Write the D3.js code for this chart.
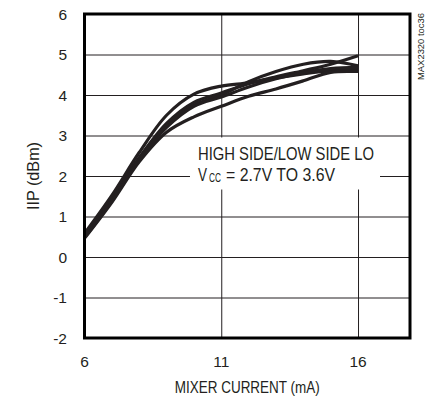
<!DOCTYPE html>
<html>
<head>
<meta charset="utf-8">
<script src="https://cdn.jsdelivr.net/npm/d3@7"></script>
<style>
  body { margin: 0; background: #fff; }
  text { font-family: "Liberation Sans Narrow", "Arial Narrow", "Liberation Sans", Arial, sans-serif; fill: #231f20; }
</style>
</head>
<body>
<svg width="430" height="397"></svg>
<script>
// The svg
var svg = d3.select("svg");

// Data (mixer current in mA, IIP in dBm)
var current = [6, 7, 8, 9, 10, 11, 12, 13, 14, 15, 16];
var iipA = [0.58, 1.52, 2.58, 3.5, 4.02, 4.22, 4.3, 4.42, 4.52, 4.6, 4.63];
var iipB = [0.52, 1.42, 2.45, 3.3, 3.82, 4.05, 4.28, 4.45, 4.6, 4.76, 4.97];
var iipC = [0.5, 1.4, 2.42, 3.25, 3.75, 4.0, 4.33, 4.58, 4.76, 4.83, 4.72];
var iipD = [0.48, 1.38, 2.4, 3.2, 3.72, 3.95, 4.2, 4.4, 4.55, 4.65, 4.68];
var iipE = [0.46, 1.35, 2.35, 3.08, 3.46, 3.72, 3.97, 4.15, 4.35, 4.56, 4.58];
var series = [iipA, iipB, iipC, iipD, iipE];

var xTicks = [6, 11, 16];
var yTicks = [-2, -1, 0, 1, 2, 3, 4, 5, 6];

// plot frame (pixels)
var plotL = 84.5, plotR = 410, plotT = 14, plotB = 338;

var x = d3.scaleLinear().domain([6, 17.9]).range([plotL, plotR]);
var y = d3.scaleLinear().domain([-2, 6]).range([plotB, plotT]);

// grid lines
svg.append("g")
  .attr("transform", "translate(0," + plotB + ")")
  .call(d3.axisBottom(x).tickValues(xTicks).tickSize(-(plotB - plotT)).tickFormat(""))
  .call(function(g){ g.select(".domain").remove() })
  .selectAll("line").attr("stroke", "#231f20").attr("stroke-width", 1);

svg.append("g")
  .attr("transform", "translate(" + plotL + ",0)")
  .call(d3.axisLeft(y).tickValues(yTicks).tickSize(-(plotR - plotL)).tickFormat(""))
  .call(function(g){ g.select(".domain").remove() })
  .selectAll("line").attr("stroke", "#231f20").attr("stroke-width", 1);

// white box behind the note
svg.append("rect")
  .attr("x", 190).attr("y", 137.5)
  .attr("width", 190).attr("height", 52)
  .attr("fill", "#fff");

// curves
var line = d3.line()
  .x(function(d, i){ return x(current[i]) })
  .y(function(d){ return y(d) })
  .curve(d3.curveCatmullRom.alpha(0.5));

svg.append("g")
  .selectAll("path")
  .data(series)
  .enter()
  .append("path")
    .attr("d", line)
    .attr("fill", "none")
    .attr("stroke", "#231f20")
    .attr("stroke-width", 3.2);

// frame
svg.append("rect")
  .attr("x", plotL).attr("y", plotT)
  .attr("width", plotR - plotL).attr("height", plotB - plotT)
  .attr("fill", "none")
  .attr("stroke", "#000")
  .attr("stroke-width", 3);

// tick labels
svg.append("g")
  .selectAll("text")
  .data(yTicks)
  .enter()
  .append("text")
    .attr("x", 67)
    .attr("y", function(d){ return y(d) })
    .attr("dy", "0.36em")
    .attr("text-anchor", "end")
    .style("font-size", "15.5px")
    .text(function(d){ return d });

svg.append("g")
  .selectAll("text")
  .data(xTicks)
  .enter()
  .append("text")
    .attr("x", function(d){ return x(d) })
    .attr("y", 367)
    .attr("text-anchor", "middle")
    .style("font-size", "15.5px")
    .text(function(d){ return d });

// axis titles
svg.append("text")
  .attr("x", (plotL + plotR) / 2).attr("y", 393)
  .attr("text-anchor", "middle")
  .attr("textLength", 145).attr("lengthAdjust", "spacingAndGlyphs")
  .style("font-size", "16px")
  .text("MIXER CURRENT (mA)");

svg.append("text")
  .attr("transform", "translate(39," + (plotT + plotB) / 2 + ") rotate(-90)")
  .attr("text-anchor", "middle")
  .attr("textLength", 68).attr("lengthAdjust", "spacingAndGlyphs")
  .style("font-size", "16px")
  .text("IIP (dBm)");

// figure code
svg.append("text")
  .attr("transform", "translate(423.5,46.5) rotate(-90)")
  .attr("text-anchor", "middle")
  .attr("textLength", 67).attr("lengthAdjust", "spacingAndGlyphs")
  .style("font-size", "9.5px")
  .text("MAX2320 toc36");

// note
svg.append("text")
  .attr("x", 198).attr("y", 160)
  .attr("textLength", 176).attr("lengthAdjust", "spacingAndGlyphs")
  .style("font-size", "17.5px")
  .text("HIGH SIDE/LOW SIDE LO");

// second line: V with subscript CC
svg.append("text")
  .attr("x", 198).attr("y", 181)
  .attr("textLength", 9).attr("lengthAdjust", "spacingAndGlyphs")
  .style("font-size", "17.5px")
  .text("V");
svg.append("text")
  .attr("x", 209).attr("y", 182)
  .attr("textLength", 12).attr("lengthAdjust", "spacingAndGlyphs")
  .style("font-size", "13px")
  .text("CC");
svg.append("text")
  .attr("x", 226).attr("y", 181)
  .attr("textLength", 109).attr("lengthAdjust", "spacingAndGlyphs")
  .style("font-size", "17.5px")
  .text("= 2.7V TO 3.6V");
</script>
</body>
</html>
